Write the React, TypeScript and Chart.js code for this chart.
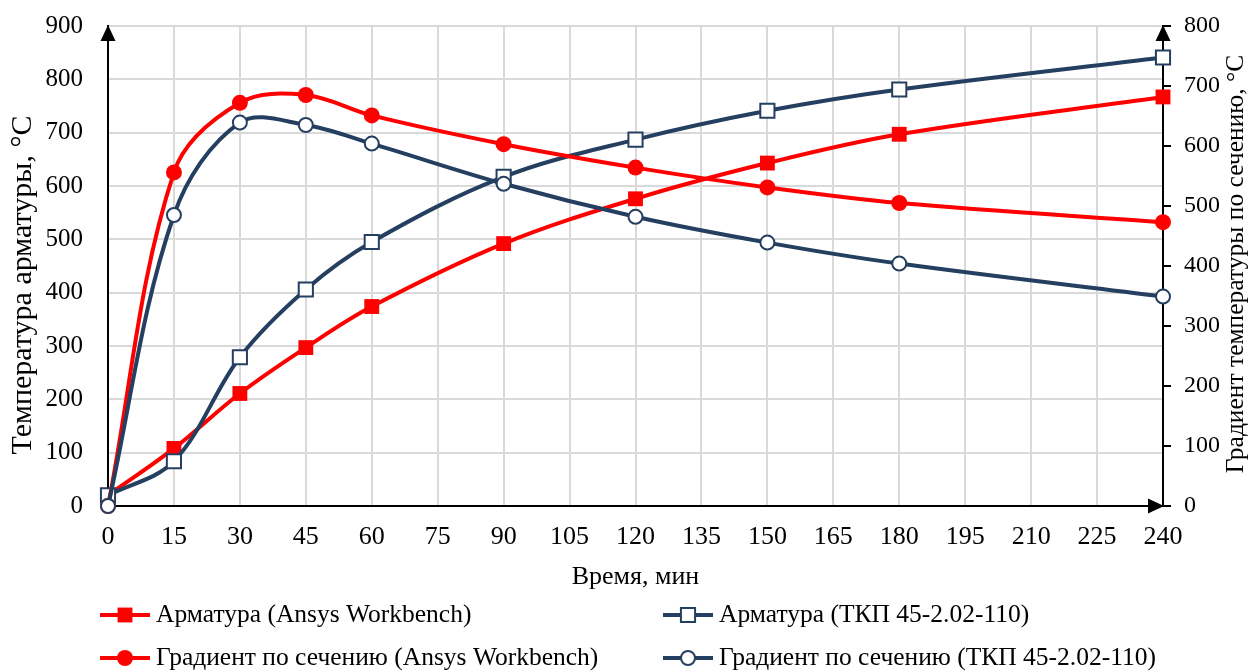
import React, { useEffect, useRef } from "react";
import { Chart, registerables } from "chart.js";

Chart.register(...registerables);

// ---- data ----
const timeMin = [0, 15, 30, 45, 60, 90, 120, 150, 180, 240];
const armAnsys = [20, 108, 211, 297, 374, 492, 576, 643, 697, 767];
const armTkp = [20, 84, 279, 406, 495, 617, 687, 741, 781, 841];
const gradAnsys = [0, 556, 672, 685, 651, 603, 564, 531, 505, 473];
const gradTkp = [0, 485, 639, 635, 604, 537, 482, 439, 404, 349];

const xTickValues = [0, 15, 30, 45, 60, 75, 90, 105, 120, 135, 150, 165, 180, 195, 210, 225, 240];
const leftTickValues = [0, 100, 200, 300, 400, 500, 600, 700, 800, 900];
const rightTickValues = [0, 100, 200, 300, 400, 500, 600, 700, 800];

const seriesLabels = [
  "Арматура (Ansys Workbench)",
  "Арматура (ТКП 45-2.02-110)",
  "Градиент по сечению (Ansys Workbench)",
  "Градиент по сечению (ТКП 45-2.02-110)",
];

const xTitle = "Время, мин";
const leftTitle = "Температура арматуры, °C";
const rightTitle = "Градиент температуры по сечению, °C";

const RED = "#ff0000";
const NAVY = "#253f60";
const GRID = "#d9d9d9";
const FONT = "'Liberation Serif', 'Times New Roman', serif";

const W = 1249;
const H = 672;

function pts(vals: number[]) {
  return timeMin.map((t, i) => ({ x: t, y: vals[i] }));
}

function drawMarker(ctx: CanvasRenderingContext2D, ds: any, x: number, y: number) {
  const r = ds.pointRadius;
  ctx.save();
  ctx.fillStyle = ds.pointBackgroundColor;
  ctx.strokeStyle = ds.pointBorderColor;
  ctx.lineWidth = ds.pointBorderWidth;
  ctx.beginPath();
  if (ds.pointStyle === "rect") {
    const s = Math.SQRT1_2 * r;
    ctx.rect(x - s, y - s, 2 * s, 2 * s);
  } else {
    ctx.arc(x, y, r, 0, Math.PI * 2);
  }
  ctx.fill();
  if (ds.pointBorderWidth) ctx.stroke();
  ctx.restore();
}

function vText(ctx: CanvasRenderingContext2D, text: string, x: number, y: number, size: number) {
  ctx.save();
  ctx.translate(x, y);
  ctx.rotate(-Math.PI / 2);
  ctx.font = `${size}px ${FONT}`;
  ctx.fillStyle = "#000";
  ctx.textAlign = "center";
  ctx.textBaseline = "middle";
  ctx.fillText(text, 0, 0);
  ctx.restore();
}

const decorPlugin = {
  id: "decor",
  afterDraw(chart: any) {
    const ctx: CanvasRenderingContext2D = chart.ctx;
    const { left, right, top, bottom } = chart.chartArea;
    ctx.save();
    ctx.fillStyle = "#000";
    const tri = (p: number[][]) => {
      ctx.beginPath();
      ctx.moveTo(p[0][0], p[0][1]);
      ctx.lineTo(p[1][0], p[1][1]);
      ctx.lineTo(p[2][0], p[2][1]);
      ctx.closePath();
      ctx.fill();
    };
    tri([[left, top - 1], [left - 7.5, top + 15], [left + 7.5, top + 15]]);
    tri([[right, top - 1], [right - 7.5, top + 15], [right + 7.5, top + 15]]);
    tri([[right + 1, bottom], [right - 15, bottom - 7.5], [right - 15, bottom + 7.5]]);

    // axis titles (read bottom-to-top)
    vText(ctx, leftTitle, 23, 285, 30);
    vText(ctx, rightTitle, 1236, 264, 25.5);

    // legend
    const slots = [
      { x: 100, y: 615 },
      { x: 663, y: 615 },
      { x: 100, y: 658 },
      { x: 663, y: 658 },
    ];
    chart.data.datasets.forEach((ds: any, i: number) => {
      const s = slots[i];
      ctx.save();
      ctx.strokeStyle = ds.borderColor;
      ctx.lineWidth = ds.borderWidth;
      ctx.beginPath();
      ctx.moveTo(s.x, s.y);
      ctx.lineTo(s.x + 50, s.y);
      ctx.stroke();
      ctx.restore();
      drawMarker(ctx, ds, s.x + 25, s.y);
      ctx.font = `25.5px ${FONT}`;
      ctx.fillStyle = "#000";
      ctx.textAlign = "left";
      ctx.textBaseline = "middle";
      ctx.fillText(ds.label, s.x + 56, s.y);
    });
    ctx.restore();
  },
};

export default function App() {
  const ref = useRef<HTMLCanvasElement | null>(null);

  useEffect(() => {
    document.body.style.margin = "0";
    const canvas = ref.current;
    if (!canvas) return;

    const chart = new Chart(canvas, {
      type: "line",
      data: {
        datasets: [
          {
            label: seriesLabels[0],
            data: pts(armAnsys),
            yAxisID: "y",
            borderColor: RED,
            backgroundColor: RED,
            borderWidth: 4,
            pointStyle: "rect",
            pointRadius: 10.5,
            pointBackgroundColor: RED,
            pointBorderColor: RED,
            pointBorderWidth: 0,
            order: 3,
          },
          {
            label: seriesLabels[1],
            data: pts(armTkp),
            yAxisID: "y",
            borderColor: NAVY,
            backgroundColor: NAVY,
            borderWidth: 4,
            pointStyle: "rect",
            pointRadius: 10,
            pointBackgroundColor: "#ffffff",
            pointBorderColor: NAVY,
            pointBorderWidth: 2,
            order: 2,
          },
          {
            label: seriesLabels[2],
            data: pts(gradAnsys),
            yAxisID: "y1",
            borderColor: RED,
            backgroundColor: RED,
            borderWidth: 4,
            pointStyle: "circle",
            pointRadius: 8,
            pointBackgroundColor: RED,
            pointBorderColor: RED,
            pointBorderWidth: 0,
            order: 1,
          },
          {
            label: seriesLabels[3],
            data: pts(gradTkp),
            yAxisID: "y1",
            borderColor: NAVY,
            backgroundColor: NAVY,
            borderWidth: 4,
            pointStyle: "circle",
            pointRadius: 7,
            pointBackgroundColor: "#ffffff",
            pointBorderColor: NAVY,
            pointBorderWidth: 2,
            order: 0,
          },
        ] as any,
      },
      options: {
        responsive: false,
        animation: false,
        devicePixelRatio: 1,
        layout: { padding: { top: 26, bottom: 79, left: 0, right: 0 } },
        elements: {
          line: { tension: 0.35, cubicInterpolationMode: "default" },
        },
        datasets: { line: { clip: false } as any },
        plugins: {
          legend: { display: false },
          tooltip: { enabled: false },
        },
        scales: {
          x: {
            type: "linear",
            min: 0,
            max: 240,
            afterBuildTicks: (s: any) => {
              s.ticks = xTickValues.map((v) => ({ value: v }));
            },
            afterFit: (s: any) => {
              s.height = 87;
              s.paddingLeft = 0;
              s.paddingRight = 0;
            },
            grid: { color: GRID, lineWidth: 2, drawTicks: false },
            border: { color: "#000", width: 2 },
            ticks: {
              font: { family: FONT, size: 26 },
              color: "#000",
              padding: 16,
              maxRotation: 0,
              autoSkip: false,
            },
            title: {
              display: true,
              text: xTitle,
              font: { family: FONT, size: 26 },
              color: "#000",
              padding: { top: 0, bottom: 0 },
            },
          },
          y: {
            type: "linear",
            position: "left",
            min: 0,
            max: 900,
            afterBuildTicks: (s: any) => {
              s.ticks = leftTickValues.map((v) => ({ value: v }));
            },
            afterFit: (s: any) => {
              s.width = 108;
              s.paddingTop = 0;
              s.paddingBottom = 0;
            },
            grid: { color: GRID, lineWidth: 2, drawTicks: false },
            border: { color: "#000", width: 2 },
            ticks: { font: { family: FONT, size: 25 }, color: "#000", padding: 25 },
          },
          y1: {
            type: "linear",
            position: "right",
            min: 0,
            max: 800,
            afterBuildTicks: (s: any) => {
              s.ticks = rightTickValues.map((v) => ({ value: v }));
            },
            afterFit: (s: any) => {
              s.width = 86;
              s.paddingTop = 0;
              s.paddingBottom = 0;
            },
            grid: {
              drawOnChartArea: false,
              drawTicks: true,
              tickLength: 8,
              color: "#000",
              lineWidth: 2,
            },
            border: { color: "#000", width: 2 },
            ticks: { font: { family: FONT, size: 24 }, color: "#000", padding: 13 },
          },
        },
      } as any,
      plugins: [decorPlugin],
    });

    return () => chart.destroy();
  }, []);

  return (
    <div style={{ width: W, height: H, background: "#fff" }}>
      <canvas ref={ref} width={W} height={H} style={{ display: "block", width: W, height: H }} />
    </div>
  );
}
